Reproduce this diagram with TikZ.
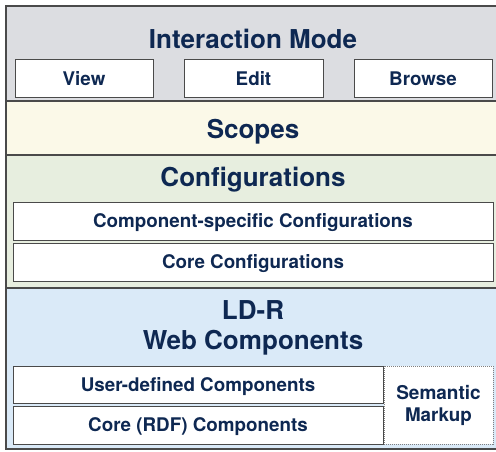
\documentclass[tikz,border=0pt]{standalone}
\usepackage{fontspec}
\setmainfont{TeX Gyre Heros}
\definecolor{navy}{HTML}{0E2852}
\definecolor{edge}{HTML}{4A4A4A}
\definecolor{bgray}{HTML}{DCDDE1}
\definecolor{byellow}{HTML}{FBF9E8}
\definecolor{bgreen}{HTML}{E7EEDF}
\definecolor{bblue}{HTML}{DAEAF8}
\begin{document}
\begin{tikzpicture}[x=1pt,y=-1pt,
  title/.style={font=\fontsize{26}{30}\selectfont\bfseries, text=navy, anchor=base, inner sep=0pt},
  box/.style={draw=edge, line width=1pt, fill=white, font=\fontsize{18.8}{22}\selectfont\bfseries, text=navy,
    inner sep=0pt, text height=13.5pt, text depth=0pt, anchor=center},
  band/.style={line width=1.4pt, draw=edge}]
\useasboundingbox (0,0) rectangle (496,452);
% bands
\fill[bgray] (6,6) rectangle (497,101);
\fill[byellow] (6,101) rectangle (497,155);
\fill[bgreen] (6,155) rectangle (497,288);
\fill[bblue] (6,288) rectangle (497,449);
\draw[band] (497,6) -- (6,6) -- (6,449) -- (497,449);
\draw[band] (6,101) -- (497,101);
\draw[band] (6,155) -- (497,155);
\draw[band] (6,288) -- (497,288);
% Interaction mode
\node[title] (im) at (253,49) {Interaction Mode};
\node[box, minimum width=138pt, minimum height=38pt] (view) at (84,79) {View};
\node[box, minimum width=139pt, minimum height=38pt] (edit) at (253.5,79) {Edit};
\node[box, minimum width=138pt, minimum height=38pt] (browse) at (423,79) {Browse};
% Scopes
\node[title] (scopes) at (253,139) {Scopes};
% Configurations
\node[title] (conf) at (253,186.5) {Configurations};
\node[box, minimum width=480pt, minimum height=38pt] (cspec) at (253,221) {Component-specific Configurations};
\node[box, minimum width=480pt, minimum height=38pt] (ccore) at (253,262) {Core Configurations};
% LD-R
\node[title] (ldr) at (253,319) {LD-R};
\node[title] (web) at (253,349.5) {Web Components};
\node[box, minimum width=370pt, minimum height=37pt] (user) at (198,384.5) {User-defined Components};
\node[box, minimum width=370pt, minimum height=38pt] (rdf) at (198,425) {Core (RDF) Components};
\node[box, draw=edge!70, densely dotted, line width=0.8pt, minimum width=109pt, minimum height=78pt,
  align=center, text height=, text depth=] (sem) at (438.5,405) {\fontsize{19}{24.5}\selectfont\bfseries Semantic\\Markup};
\end{tikzpicture}
\end{document}
